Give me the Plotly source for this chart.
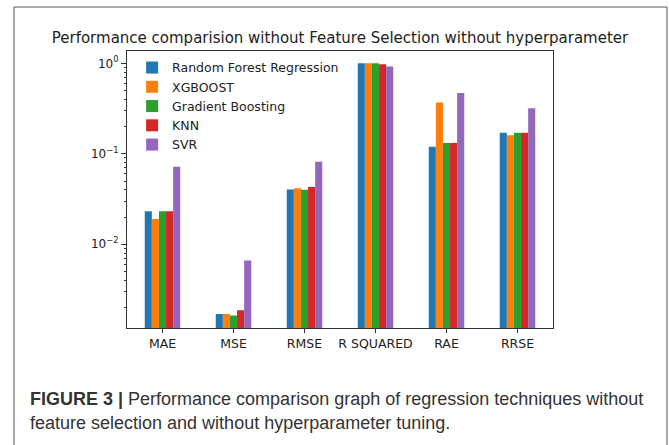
import plotly.graph_objects as go

metrics = ["MAE", "MSE", "RMSE", "R SQUARED", "RAE", "RRSE"]
random_forest = [0.0232, 0.0017, 0.0402, 1.0, 0.12, 0.171]
xgboost = [0.019, 0.0017, 0.0416, 1.0, 0.37, 0.16]
gradient_boosting = [0.0232, 0.00163, 0.040, 1.0, 0.132, 0.171]
knn = [0.0232, 0.00187, 0.043, 0.975, 0.132, 0.171]
svr = [0.072, 0.0066, 0.0817, 0.92, 0.47, 0.318]

major_ticks = [0.01, 0.1, 1]
major_labels = ["10<sup>−2</sup>", "10<sup>−1</sup>", "10<sup>0</sup>"]
minor_ticks = [0.002, 0.003, 0.004, 0.005, 0.006, 0.007, 0.008, 0.009,
               0.02, 0.03, 0.04, 0.05, 0.06, 0.07, 0.08, 0.09,
               0.2, 0.3, 0.4, 0.5, 0.6, 0.7, 0.8, 0.9]

series = [
    ("Random Forest Regression", random_forest, "#1f77b4"),
    ("XGBOOST", xgboost, "#ff7f0e"),
    ("Gradient Boosting", gradient_boosting, "#2ca02c"),
    ("KNN", knn, "#d62728"),
    ("SVR", svr, "#9467bd"),
]

W, H = 669, 445
L, R, T, B = 127, 553, 51, 328  # plot area in pixels


def px(x):
    return (x - L) / (R - L)


def py(y):
    return (B - y) / (B - T)


fig = go.Figure()
for name, vals, col in series:
    fig.add_trace(go.Bar(x=metrics, y=vals, name=name, marker_color=col,
                         marker_line_width=0))

fig.update_layout(
    width=W, height=H,
    margin=dict(l=L, r=W - R, t=T, b=H - B),
    paper_bgcolor="white", plot_bgcolor="white",
    barmode="group", bargap=0.5, bargroupgap=0,
    font=dict(family="DejaVu Sans", color="#222", size=12),
    title=dict(text="Performance comparision without Feature Selection without hyperparameter",
               x=0.5, xref="paper", y=1 - 38 / H, yanchor="middle",
               font=dict(size=15, color="#222")),
    legend=dict(x=0.012, y=0.993, xanchor="left", yanchor="top",
                bgcolor="rgba(255,255,255,0.8)", borderwidth=0,
                font=dict(size=12.5), itemwidth=30),
    showlegend=True,
)
fig.update_xaxes(showline=True, linecolor="#333", linewidth=1, mirror=True,
                 ticks="outside", ticklen=4, tickcolor="#333",
                 tickfont=dict(size=12.5), showgrid=False)
fig.update_yaxes(type="log", range=[-2.925, 0.136],
                 tickvals=major_ticks, ticktext=major_labels,
                 showline=True, linecolor="#333", linewidth=1, mirror=True,
                 ticks="outside", ticklen=5, tickcolor="#333",
                 tickfont=dict(size=12), showgrid=False, zeroline=False,
                 minor=dict(tickmode="array", tickvals=minor_ticks,
                            ticks="outside", ticklen=2.5, tickcolor="#333",
                            showgrid=False))

# figure frame around chart and caption
fig.add_shape(type="rect", xref="paper", yref="paper",
              x0=px(14), x1=px(667), y0=py(447), y1=py(7),
              line=dict(color="#555", width=1), layer="below")

fig.add_annotation(xref="paper", yref="paper", x=px(28), y=py(399),
                   xanchor="left", yanchor="middle", showarrow=False,
                   text="<b>FIGURE 3 |</b> Performance comparison graph of regression techniques without",
                   font=dict(family="Liberation Sans", size=18, color="#333"))
fig.add_annotation(xref="paper", yref="paper", x=px(28), y=py(423),
                   xanchor="left", yanchor="middle", showarrow=False,
                   text="feature selection and without hyperparameter tuning.",
                   font=dict(family="Liberation Sans", size=18, color="#333"))

fig.write_html("out.html", config={"displayModeBar": False},
               post_script="document.body.style.margin='0';")
